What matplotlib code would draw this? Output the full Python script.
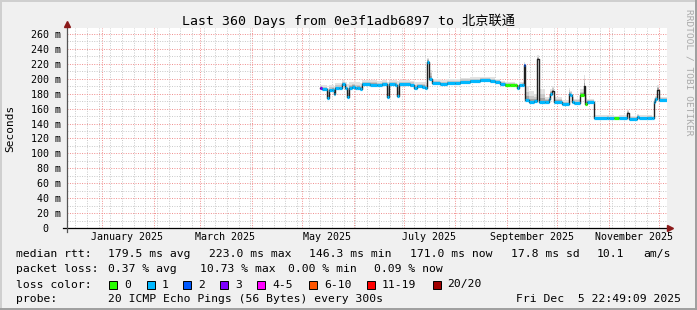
import numpy as np
import matplotlib.pyplot as plt
import matplotlib.dates as mdates
from matplotlib.ticker import MultipleLocator
from matplotlib.lines import Line2D
from matplotlib.patches import Rectangle
import pandas as pd

plt.rcParams['font.family'] = ['DejaVu Sans Mono', 'Noto Sans CJK SC']

W, H = 697, 310
BG = "#f0f0f0"

START = pd.Timestamp("2024-12-10 22:49:09")
END = pd.Timestamp("2025-12-05 22:49:09")

TITLE = "Last 360 Days from 0e3f1adb6897 to 北京联通"

# median rtt samples (ms), top of the smoke (ms), loss bucket (None = no colour)
dates = ["2025-05-12", "2025-05-13", "2025-05-16", "2025-05-17", "2025-05-19",
         "2025-05-20", "2025-05-21", "2025-05-23", "2025-05-25", "2025-05-27",
         "2025-05-28", "2025-05-29", "2025-05-31", "2025-06-02", "2025-06-03",
         "2025-06-05", "2025-06-06", "2025-06-11", "2025-06-15", "2025-06-18",
         "2025-06-21", "2025-06-22", "2025-06-26", "2025-06-27", "2025-06-28",
         "2025-07-05", "2025-07-07", "2025-07-09", "2025-07-12", "2025-07-14",
         "2025-07-15", "2025-07-16", "2025-07-18", "2025-07-23", "2025-07-27",
         "2025-08-01", "2025-08-04", "2025-08-10", "2025-08-16", "2025-08-22",
         "2025-08-25", "2025-08-28", "2025-08-31", "2025-09-03", "2025-09-06",
         "2025-09-07", "2025-09-08", "2025-09-10", "2025-09-11", "2025-09-12",
         "2025-09-14", "2025-09-17", "2025-09-19", "2025-09-20", "2025-09-24",
         "2025-09-26", "2025-09-27", "2025-09-28", "2025-09-29", "2025-10-04",
         "2025-10-08", "2025-10-09", "2025-10-10", "2025-10-11", "2025-10-15",
         "2025-10-17", "2025-10-18", "2025-10-19", "2025-10-23", "2025-10-31",
         "2025-11-01", "2025-11-04", "2025-11-07", "2025-11-12", "2025-11-13",
         "2025-11-18", "2025-11-19", "2025-11-24", "2025-11-27", "2025-11-28",
         "2025-11-29", "2025-11-30", "2025-12-01"]
median = [188, 186, 174, 185, 185, 179, 187, 187, 193, 187,
          176, 188, 189, 187, 188, 186, 192.5, 192, 191, 192.5,
          175, 192.5, 192, 177, 192.5, 192, 187, 190, 189, 187,
          223, 200, 194, 193, 194, 194, 196, 197, 198, 197,
          195, 193, 192, 192, 191, 187, 191, 192, 218, 172,
          169, 170, 226, 169, 169, 173, 180, 183, 169.3, 166,
          180, 178, 169, 168, 178, 190, 166, 168.5, 147, 148,
          147, 147, 147, 154, 146, 149, 147, 147.5, 147, 169,
          172.5, 185, 171]
smoke_top = [192, 192, 188, 191, 192, 190, 194, 194, 198, 195,
             193, 195, 196, 195, 195, 194, 198, 198, 197, 198,
             196, 198, 198, 197, 198, 197, 195, 196, 196, 194,
             228, 212, 200, 198, 199, 199, 201, 202, 203, 202,
             200, 197, 195, 195, 194, 192, 195, 196, 222, 190,
             183, 180, 232, 186, 176, 178, 186, 190, 175, 171,
             188, 184, 175, 173, 186, 205, 180, 173, 151, 152,
             151, 150, 151, 158, 150, 153, 151, 151, 150, 174,
             177, 192, 176]
loss = [3, 1, 1, 1, 1, 1, 1, 1, 1, 1,
        1, 1, 1, 1, 1, 1, 1, 1, 1, 1,
        1, 1, 1, 1, 1, 1, 1, 1, 1, 1,
        1, 1, 1, 1, 1, 1, 1, 1, 1, 1,
        1, 1, 0, 0, 0, 1, 1, 1, 2, 1,
        1, 1, None, 1, 1, 1, 1, None, 1, 1,
        1, 1, 1, 1, 0, None, 0, 1, 1, 1,
        1, 0, 1, None, 1, 1, 1, 1, 1, 1,
        1, None, 1]

loss_labels = ["0", "1", "2", "3", "4-5", "6-10", "11-19", "20/20"]
loss_colors = ["#26ff00", "#00b8ff", "#0059ff", "#7e00ff",
               "#ff00ff", "#ff5500", "#ff0000", "#a10000"]

month_labels = ["January 2025", "March 2025", "May 2025",
                "July 2025", "September 2025", "November 2025"]
label_dates = ["2025-01-16", "2025-03-16", "2025-05-16",
               "2025-07-16", "2025-09-16", "2025-11-16"]

rtt_stats = ["179.5 ms avg", "223.0 ms max", "146.3 ms min",
             "171.0 ms now", "17.8 ms sd", "10.1", "am/s"]
loss_stats = ["0.37 % avg", "10.73 % max", "0.00 % min", "0.09 % now"]
probe_text = "20 ICMP Echo Pings (56 Bytes) every 300s"
stamp = "Fri Dec  5 22:49:09 2025"


def fx(x):
    return x / W


def fy(y):
    return 1 - y / H


fig = plt.figure(figsize=(W / 100, H / 100), dpi=100, facecolor=BG)
ax = fig.add_axes([fx(67), fy(228), 600 / W, 200 / H])
ax.set_facecolor("white")

t = pd.to_datetime(dates)
t_ext = list(t) + [END]
med = np.array(median + [median[-1]], dtype=float)
top = np.array(smoke_top + [smoke_top[-1]], dtype=float)

# smoke
ax.fill_between(t_ext, med - 1, top, step="post", color="#e2e2e2", lw=0, zorder=2)
ax.fill_between(t_ext, med - 1, med + (top - med) * 0.6, step="post",
                color="#c8c8c8", lw=0, zorder=2)
ax.fill_between(t_ext, med - 1, med + (top - med) * 0.3, step="post",
                color="#a4a4a4", lw=0, zorder=2)

# median: dark line, then loss-coloured segments
ax.step(t_ext, med, where="post", color="#202020", lw=1.0, zorder=3)
for i in range(len(t)):
    if loss[i] is None:
        continue
    ax.hlines(median[i], t_ext[i], t_ext[i + 1], color=loss_colors[loss[i]],
              lw=2.3, zorder=4)

ax.set_xlim(START, END)
ax.set_ylim(0, 268)

ax.xaxis.set_major_locator(mdates.MonthLocator())
ax.xaxis.set_minor_locator(mdates.WeekdayLocator(byweekday=mdates.MO))
ax.yaxis.set_major_locator(MultipleLocator(20))
ax.yaxis.set_minor_locator(MultipleLocator(10))
ax.grid(which="minor", color="#c8c8c8", lw=0.7, linestyle=(0, (1, 1.5)))
ax.grid(which="major", color="#f08c8c", lw=0.7, linestyle=(0, (1, 1.5)))
ax.set_axisbelow(True)

ytk = list(range(0, 261, 20))
ax.set_yticks(ytk)
ax.set_yticklabels(["0  "] + [f"{v} m" for v in ytk[1:]])
ax.tick_params(axis="y", which="both", length=0, pad=4.5, labelsize=7.2)
ax.tick_params(axis="x", which="both", length=0, labelbottom=False)
for s in ax.spines.values():
    s.set_visible(False)

for d, lab in zip(label_dates, month_labels):
    ax.text(pd.Timestamp(d), -0.045, lab, transform=ax.get_xaxis_transform(),
            ha="center", va="center", fontsize=7.2)

# axes with arrows
fig.add_artist(Line2D([fx(63), fx(668)], [fy(228), fy(228)], color="black", lw=0.9))
fig.add_artist(Line2D([fx(67), fx(67)], [fy(232), fy(26)], color="#555555", lw=0.9))
fig.add_artist(Line2D([fx(670)], [fy(228)], marker=">", color="#8b1a1a", ms=4.5, lw=0))
fig.add_artist(Line2D([fx(67)], [fy(24)], marker="^", color="#8b1a1a", ms=4.5, lw=0))

fig.text(fx(348.5), fy(21), TITLE, ha="center", va="center", fontsize=9.5)
fig.text(fx(10), fy(128), "Seconds", rotation=90, ha="center", va="center", fontsize=8)
fig.text(fx(689), fy(72), "RRDTOOL / TOBI OETIKER", rotation=270, ha="center",
         va="center", fontsize=6.8, color="#aaaaaa")

LF = 8.2
rows = [254, 269.5, 284.5, 299.5]
fig.text(fx(16), fy(rows[0]), "median rtt:", va="center", fontsize=LF)
for s, x in zip(rtt_stats, [108, 209, 309, 410, 511, 597, 643]):
    fig.text(fx(x), fy(rows[0]), s, va="center", fontsize=LF)
fig.text(fx(16), fy(rows[1]), "packet loss:", va="center", fontsize=LF)
for s, x in zip(loss_stats, [108, 200, 288, 374]):
    fig.text(fx(x), fy(rows[1]), s, va="center", fontsize=LF)
fig.text(fx(16), fy(rows[2]), "loss color:", va="center", fontsize=LF)
for lab, c, x in zip(loss_labels, loss_colors, [109, 146.5, 183, 220, 257, 309, 367, 432.5]):
    fig.add_artist(Rectangle((fx(x), fy(rows[2] + 4)), 8 / W, 8 / H, facecolor=c,
                             edgecolor="black", lw=0.7))
    fig.text(fx(x + 15), fy(rows[2]), lab, va="center", fontsize=LF)
fig.text(fx(16), fy(rows[3]), "probe:", va="center", fontsize=LF)
fig.text(fx(108), fy(rows[3]), probe_text, va="center", fontsize=LF)
fig.text(fx(681), fy(rows[3]), stamp, ha="right", va="center", fontsize=LF)

# frame shading
fig.add_artist(Line2D([0, 1], [fy(0.5), fy(0.5)], color="#cfcfcf", lw=1.4))
fig.add_artist(Line2D([fx(0.5), fx(0.5)], [0, 1], color="#cfcfcf", lw=1.4))
fig.add_artist(Line2D([0, 1], [fy(309), fy(309)], color="#9e9e9e", lw=1.4))
fig.add_artist(Line2D([fx(696), fx(696)], [0, 1], color="#9e9e9e", lw=1.4))

fig.savefig("out.png", dpi=100, facecolor=BG)
